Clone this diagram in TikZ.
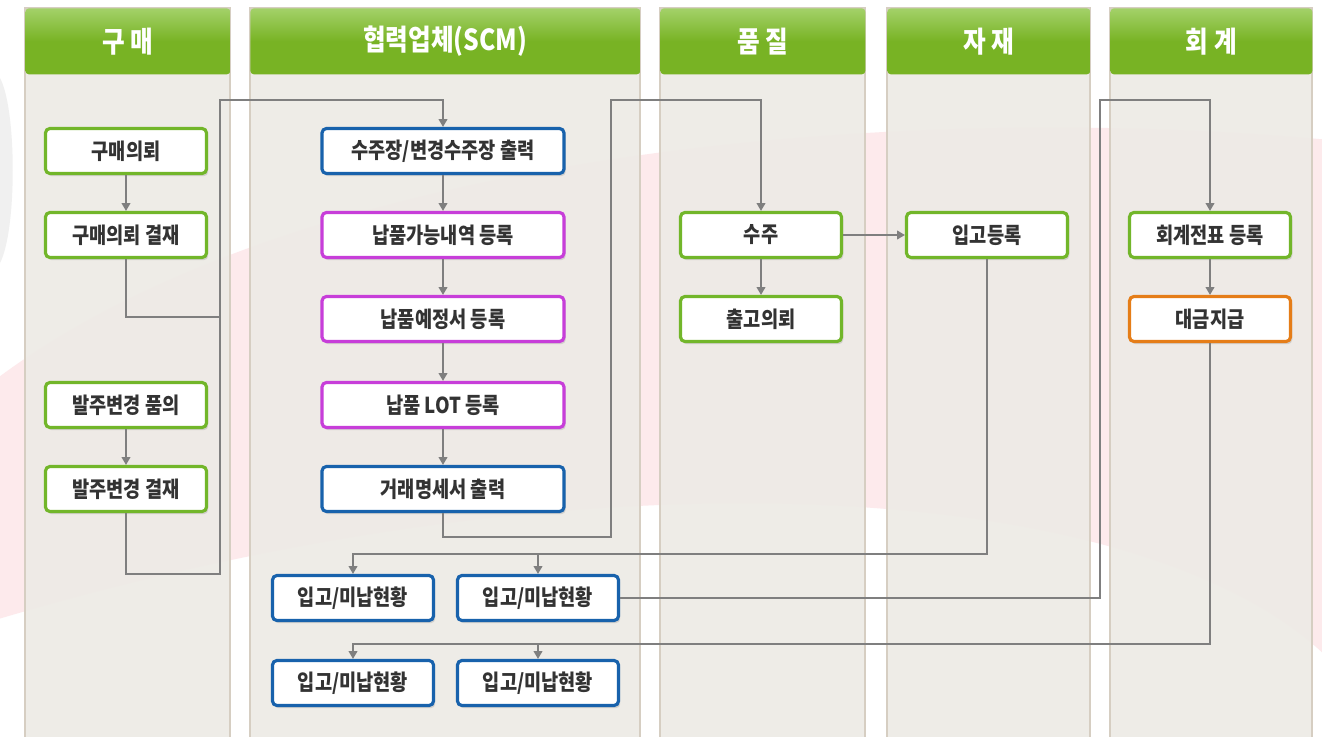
\documentclass[tikz,border=0pt]{standalone}
\usepackage{fontspec}
\setmainfont{Noto Sans CJK KR}[FakeStretch=0.85]
\usepackage{tikz}
\usetikzlibrary{arrows.meta, shadows}

\definecolor{laneback}{HTML}{EEEBE6}
\definecolor{laneedge}{HTML}{D6CEC2}
\definecolor{headgreen}{HTML}{78B324}
\definecolor{headlight}{HTML}{A3D169}
\definecolor{boxgreen}{HTML}{72B62A}
\definecolor{boxblue}{HTML}{1862AC}
\definecolor{boxpurple}{HTML}{C73ED9}
\definecolor{boxorange}{HTML}{E57D18}
\definecolor{linkgray}{HTML}{7F7F7F}
\definecolor{swoosh}{HTML}{FDEAEC}
\definecolor{textgray}{HTML}{333333}

\begin{document}
\begin{tikzpicture}[
                    x=0.02cm, y=0.02cm,
                    lane/.style={fill=laneback, draw=laneedge, line width=0.6pt, fill opacity=0.95},
                    head/.style={top color=headlight, bottom color=headgreen, middle color=headgreen,
                                 rounded corners=2pt, minimum height=1.32cm, inner sep=0pt,
                                 text=white, font=\bfseries\fontsize{16.5}{19}\selectfont},
                    box/.style={draw, line width=1.8pt, rounded corners=2.5pt, fill=white,
                                minimum width=3.22cm, minimum height=0.9cm, inner sep=2pt,
                                text=textgray, font=\bfseries\fontsize{12.5}{14}\selectfont,
                                drop shadow={shadow xshift=1pt, shadow yshift=-1.5pt, opacity=0.25}},
                    wide/.style={minimum width=4.84cm},
                    gbox/.style={box, draw=boxgreen},
                    bbox/.style={box, draw=boxblue},
                    pbox/.style={box, draw=boxpurple},
                    obox/.style={box, draw=boxorange},
                    link/.style={draw=linkgray, line width=0.9pt},
                    arrow/.style={link, -{Triangle[width=5pt,length=4.5pt]}}
                    ]

  \useasboundingbox (0,0) rectangle (1322,-737);
  \fill[white] (0,0) rectangle (1322,-737);

  % background swoosh
  \fill[swoosh] (-5,-380) .. controls (300,-150) and (900,-100) .. (1330,-140)
                -- (1330,-660) .. controls (1150,-480) and (600,-440) .. (-5,-620) -- cycle;
  \fill[black!6] (0,-78) .. controls (17,-110) and (17,-230) .. (0,-263) -- cycle;

  % lanes
  \foreach \x/\w/\name/\title in {25/205/buy/구 매, 250/390/scm/협력업체(SCM),
                                  660/205/qc/품 질, 887/203/mat/자 재, 1110/202/acc/회 계} {
    \fill[lane] (\x,-8) rectangle ++(\w,-740);
    \node[head, minimum width=\w*0.02cm, anchor=north west] (h-\name) at (\x,-8) {\title};
  }

  % 구매
  \node[gbox] (buy1) at (126,-151) {구매의뢰};
  \node[gbox] (buy2) at (126,-235) {구매의뢰 결재};
  \node[gbox] (buy3) at (126,-405) {발주변경 품의};
  \node[gbox] (buy4) at (126,-489) {발주변경 결재};

  % 협력업체
  \node[bbox, wide] (scm1) at (443,-151) {수주장/변경수주장 출력};
  \node[pbox, wide] (scm2) at (443,-235) {납품가능내역 등록};
  \node[pbox, wide] (scm3) at (443,-319) {납품예정서 등록};
  \node[pbox, wide] (scm4) at (443,-405) {납품 LOT 등록};
  \node[bbox, wide] (scm5) at (443,-489) {거래명세서 출력};
  \node[bbox] (st1) at (353,-598) {입고/미납현황};
  \node[bbox] (st2) at (538,-598) {입고/미납현황};
  \node[bbox] (st3) at (353,-683) {입고/미납현황};
  \node[bbox] (st4) at (538,-683) {입고/미납현황};

  % 품질, 자재, 회계
  \node[gbox] (qc1) at (761,-235) {수주};
  \node[gbox] (qc2) at (761,-319) {출고의뢰};
  \node[gbox] (mat1) at (987,-235) {입고등록};
  \node[gbox] (acc1) at (1210,-235) {회계전표 등록};
  \node[obox] (acc2) at (1210,-319) {대금지급};

  % connectors
  \draw[arrow] (buy1) -- (buy2);
  \draw[arrow] (buy3) -- (buy4);
  \draw[link] (buy2.south) |- (220,-317);
  \draw[arrow] (buy4.south) |- (220,-574) -- (220,-100) -| (scm1.north);
  \foreach \a/\b in {scm1/scm2, scm2/scm3, scm3/scm4, scm4/scm5}
    \draw[arrow] (\a) -- (\b);
  \draw[arrow] (scm5.south) |- (611,-537) -- (611,-100) -| (qc1.north);
  \draw[arrow] (qc1) -- (qc2);
  \draw[arrow] (qc1) -- (mat1);
  \draw[arrow] (mat1.south) |- (st2.north |- 0,-554) -| (st1.north);
  \draw[arrow] (st2.north |- 0,-554) -- (st2.north);
  \draw[arrow] (st2.east) -| (1100,-100) -| (acc1.north);
  \draw[arrow] (acc1) -- (acc2);
  \draw[arrow] (acc2.south) |- (st4.north |- 0,-644) -| (st3.north);
  \draw[arrow] (st4.north |- 0,-644) -- (st4.north);

\end{tikzpicture}
\end{document}
